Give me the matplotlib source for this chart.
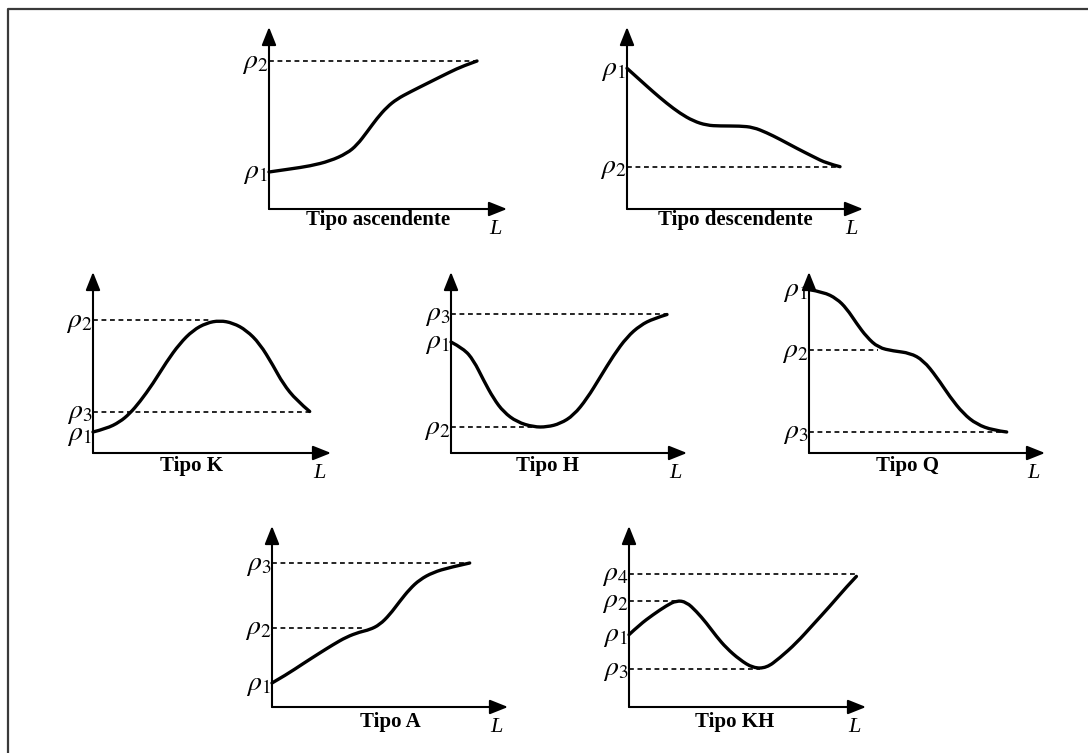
import numpy as np
import matplotlib.pyplot as plt
from matplotlib.lines import Line2D
from matplotlib.path import Path
from matplotlib.patches import PathPatch

plt.rcParams["mathtext.fontset"] = "stix"
plt.rcParams["font.family"] = ["Liberation Serif", "DejaVu Serif"]

W, H = 1088, 753

# --- dados (unidades locais: px a partir da origem de cada painel) ---
# Tipo ascendente
asc_x = [0, 21, 41, 61, 78, 88, 98, 108, 118, 128, 141, 161, 181, 194, 208]
asc_y = [37, 40, 43, 48, 55.7, 64, 77, 90.7, 102, 110, 117, 127, 137, 143, 148]
asc_niveis = {r"$\rho_1$": 37, r"$\rho_2$": 148}
asc_tracos = [(148, 208)]

# Tipo descendente
desc_x = [0, 13, 26, 39.7, 53, 66.3, 79.7, 93, 113, 126.3, 139.7, 153, 169.7, 186.3, 199.7, 213]
desc_y = [140.7, 129, 117.3, 105.7, 95.7, 88, 83.7, 83, 83, 81.7, 76.3, 69.7, 60.7, 52.3, 45.7, 42.3]
desc_niveis = {r"$\rho_1$": 140.7, r"$\rho_2$": 42.3}
desc_tracos = [(42.3, 213)]

# Tipo K
k_x = [0, 13.4, 26.7, 36.7, 46.7, 60, 73.4, 86.7, 100, 113.4, 126.7, 140, 153.4,
       166.7, 180, 190, 203.4, 216.7]
k_y = [21, 24.4, 31, 39.4, 51, 69.4, 91, 109.4, 122.7, 130, 132.5, 130, 122.7,
       109.4, 87.7, 69.4, 52.7, 41.5]
k_niveis = {r"$\rho_2$": 132.7, r"$\rho_3$": 42, r"$\rho_1$": 19}
k_tracos = [(132.7, 118), (41, 216.7)]

# Tipo H
h_x = [0, 12.6, 22.6, 32.6, 42.6, 52.6, 66, 82.6, 96, 109.3, 122.6, 136, 149.3,
       162.6, 176, 189.3, 202.6, 216]
h_y = [111, 104.4, 92.7, 72.7, 54.4, 41, 31, 26, 26, 29.4, 37.7, 54.4, 76, 97.7,
       116, 127.7, 134.4, 138.5]
h_niveis = {r"$\rho_3$": 139.4, r"$\rho_1$": 111, r"$\rho_2$": 26}
h_tracos = [(139.4, 216), (26, 82.6)]

# Tipo Q
q_x = [0, 14.3, 27.7, 37.7, 47.7, 57.7, 69.3, 84.3, 101, 114.3, 127.7, 141, 154.3,
       167.7, 184.3, 197.7]
q_y = [163.4, 161, 154.4, 144.4, 129.4, 116, 105.4, 102, 100, 92.7, 76, 56, 39.4,
       28.7, 22.7, 21]
q_niveis = {r"$\rho_1$": 163.4, r"$\rho_2$": 102.7, r"$\rho_3$": 21}
q_tracos = [(102.7, 69.3), (21, 197.7)]

# Tipo A
a_x = [0, 14.4, 31, 47.7, 61, 74.4, 87.7, 97.7, 107.7, 117.7, 127.7, 137.7, 147.7,
       161, 177.7, 197.7]
a_y = [24, 32.3, 43.3, 54, 62.3, 70, 75, 77.3, 82.3, 92.3, 105.6, 118, 127.3,
       134.6, 139.6, 144]
a_niveis = {r"$\rho_3$": 144, r"$\rho_2$": 79, r"$\rho_1$": 24}
a_tracos = [(144, 197.7), (79, 91)]

# Tipo KH
kh_x = [0, 10.7, 24, 37.4, 47.4, 57.4, 67.4, 77.4, 87.4, 97.4, 110.7, 124, 137.4,
        150.7, 167.4, 184, 200.7, 217.4, 227.4]
kh_y = [72.3, 82.3, 92.3, 101.3, 106.5, 105, 95.6, 84, 70.6, 59, 47.3, 39, 39,
        49, 64, 82.3, 100.6, 120, 130.6]
kh_niveis = {r"$\rho_4$": 133.3, r"$\rho_2$": 106.3, r"$\rho_1$": 72.3, r"$\rho_3$": 38.3}
kh_tracos = [(133.3, 227.4), (106.3, 47), (38.3, 130.7)]

# --- disposição dos painéis: origem (px), largura, altura, posição do título ---
paineis = [
    ("Tipo ascendente", asc_x, asc_y, asc_niveis, asc_tracos, (269, 209), 238, 182, (109, -11)),
    ("Tipo descendente", desc_x, desc_y, desc_niveis, desc_tracos, (627, 209), 236, 182, (108, -11)),
    ("Tipo K", k_x, k_y, k_niveis, k_tracos, (93, 453), 238, 181, (99, -13)),
    ("Tipo H", h_x, h_y, h_niveis, h_tracos, (451, 453), 236, 181, (97, -13)),
    ("Tipo Q", q_x, q_y, q_niveis, q_tracos, (809, 453), 236, 181, (98, -13)),
    ("Tipo A", a_x, a_y, a_niveis, a_tracos, (272, 707), 236, 181, (118, -15)),
    ("Tipo KH", kh_x, kh_y, kh_niveis, kh_tracos, (629, 707), 237, 181, (106, -15)),
]


def curva_suave(xs, ys):
    """Caminho de Bézier quadrático usando os pontos lidos como controle."""
    p = np.column_stack([xs, ys])
    verts = [p[0]]
    codes = [Path.MOVETO]
    for i in range(1, len(p) - 1):
        fim = p[i + 1] if i == len(p) - 2 else (p[i] + p[i + 1]) / 2
        verts += [p[i], fim]
        codes += [Path.CURVE3, Path.CURVE3]
    return Path(verts, codes)


fig = plt.figure(figsize=(W / 100, H / 100), dpi=100)
fig.patch.set_facecolor("white")

# Moldura (só aparecem os lados esquerdo e superior)
fig.add_artist(Line2D([8 / W, 8 / W, 1.0], [0.0, 1 - 9 / H, 1 - 9 / H],
                      transform=fig.transFigure, color="#3a3a3a", lw=1.6))

seta = dict(arrowstyle="-|>,head_length=0.55,head_width=0.22", lw=1.5,
            color="k", shrinkA=0, shrinkB=0, mutation_scale=20)

for titulo, xs, ys, niveis, tracos, (ox, oy), w, h, (tx, ty) in paineis:
    ax = fig.add_axes([ox / W, 1 - oy / H, w / W, h / H])
    ax.set_xlim(0, w)
    ax.set_ylim(0, h)
    ax.axis("off")

    # eixos com setas
    ax.annotate("", xy=(0, 1), xytext=(0, 0), xycoords="axes fraction", arrowprops=seta)
    ax.annotate("", xy=(1, 0), xytext=(0, 0), xycoords="axes fraction", arrowprops=seta)

    # linhas tracejadas de referência
    for nivel, fim in tracos:
        ax.plot([0, fim], [nivel, nivel], ls=(0, (2.9, 2.2)), lw=1.2, color="k",
                clip_on=False)

    # curva de resistividade
    ax.add_patch(PathPatch(curva_suave(xs, ys), fill=False, edgecolor="k", lw=2.4,
                           capstyle="round", joinstyle="round", clip_on=False))

    for rotulo, nivel in niveis.items():
        ax.text(-1, nivel - 2, rotulo, ha="right", va="center", fontsize=20, clip_on=False)

    ax.text(tx, ty, titulo, ha="center", va="center", fontsize=15,
            fontweight="bold", clip_on=False)
    ax.text(w - 12, -20, "L", ha="center", va="center", fontsize=16,
            style="italic", clip_on=False)

fig.savefig("out.png", dpi=100, facecolor="white")
